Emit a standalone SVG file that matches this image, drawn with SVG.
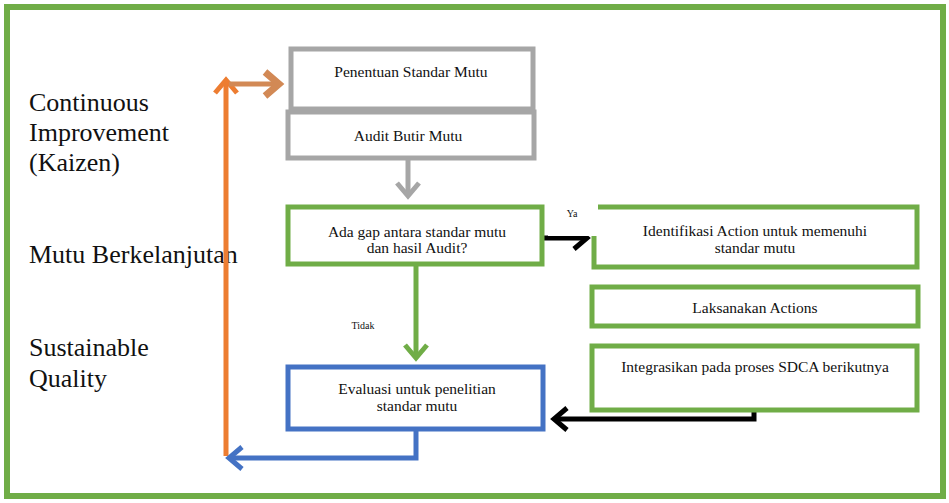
<svg xmlns="http://www.w3.org/2000/svg" width="949" height="503" viewBox="0 0 949 503">
<defs>
<style>
.t{font-family:"Liberation Serif","Times New Roman",serif;fill:#111}
.side{font-size:26px}
.box{font-size:15.5px}
.small{font-size:10px}
.g{fill:#fff;stroke:#a6a6a6;stroke-width:5}
.gr{fill:#fff;stroke:#70ad47;stroke-width:5}
.bl{fill:#fff;stroke:#4472c4;stroke-width:5}
.c{fill:none;stroke-width:5;stroke-linejoin:miter}
</style>
<marker id="mGray" markerUnits="userSpaceOnUse" viewBox="0 0 26 26" markerWidth="26" markerHeight="26" refX="21" refY="13" orient="auto"><path d="M8 2 L21 13 L8 24" fill="none" stroke="#a6a6a6" stroke-width="5"/></marker>
<marker id="mGreen" markerUnits="userSpaceOnUse" viewBox="0 0 26 26" markerWidth="26" markerHeight="26" refX="21" refY="13" orient="auto"><path d="M8 2 L21 13 L8 24" fill="none" stroke="#70ad47" stroke-width="5"/></marker>
<marker id="mBlue" markerUnits="userSpaceOnUse" viewBox="0 0 26 26" markerWidth="26" markerHeight="26" refX="21" refY="13" orient="auto"><path d="M8 2 L21 13 L8 24" fill="none" stroke="#4472c4" stroke-width="5"/></marker>
<marker id="mOrange" markerUnits="userSpaceOnUse" viewBox="0 0 26 26" markerWidth="26" markerHeight="26" refX="21" refY="13" orient="auto"><path d="M8 2 L21 13 L8 24" fill="none" stroke="#ed7d31" stroke-width="5"/></marker>
<marker id="mOrange2" markerUnits="userSpaceOnUse" viewBox="0 0 30 30" markerWidth="30" markerHeight="30" refX="24" refY="15" orient="auto"><path d="M10 3 L24 15 L10 27" fill="none" stroke="#d28955" stroke-width="7"/></marker>
<marker id="mBlack" markerUnits="userSpaceOnUse" viewBox="0 0 26 26" markerWidth="26" markerHeight="26" refX="21" refY="13" orient="auto"><path d="M8 2 L21 13 L8 24" fill="none" stroke="#000" stroke-width="5"/></marker>
</defs>
<rect x="0" y="0" width="949" height="503" fill="#fff"/>
<rect id="frame" x="7" y="7" width="936" height="489" fill="none" stroke="#70ad47" stroke-width="6"/>

<g id="labels">
<text class="t side" x="29" y="111">Continuous</text>
<text class="t side" x="29" y="141">Improvement</text>
<text class="t side" x="29" y="171">(Kaizen)</text>
<text class="t side" x="29" y="263">Mutu Berkelanjutan</text>
<text class="t side" x="29" y="356">Sustainable</text>
<text class="t side" x="29" y="387">Quality</text>
</g>

<g id="connectors">
<path class="c" stroke="#ed7d31" d="M226 456 L226 80" marker-end="url(#mOrange)"/>
<path class="c" stroke="#d28955" stroke-width="7" d="M229 84 L279 84" marker-end="url(#mOrange2)"/>
<path class="c" stroke="#a6a6a6" d="M408 159 L408 196" marker-end="url(#mGray)"/>
<path class="c" stroke="#70ad47" d="M416 265 L416 358" marker-end="url(#mGreen)"/>
<path class="c" stroke="#000" d="M544 238 L587 238" marker-end="url(#mBlack)"/>
<path class="c" stroke="#000" d="M754 409 L754 419 L554 419" marker-end="url(#mBlack)"/>
<path class="c" stroke="#4472c4" d="M416 430 L416 458 L229 458" marker-end="url(#mBlue)"/>
</g>

<g id="n1"><rect class="g" x="291" y="49" width="242" height="60"/><text class="t box" x="411" y="77" text-anchor="middle">Penentuan Standar Mutu</text></g>
<g id="n2"><rect class="g" x="288" y="112" width="246" height="46"/><text class="t box" x="408" y="141" text-anchor="middle">Audit Butir Mutu</text></g>
<g id="n3"><rect class="gr" x="288" y="207" width="254" height="57"/><text class="t box" x="417" y="237" text-anchor="middle">Ada gap antara standar mutu</text><text class="t box" x="417" y="253" text-anchor="middle">dan hasil  Audit?</text></g>
<g id="n4"><rect class="gr" x="594" y="207" width="323" height="60"/><text class="t box" x="755" y="236" text-anchor="middle">Identifikasi Action untuk memenuhi</text><text class="t box" x="755" y="253" text-anchor="middle">standar mutu</text></g>
<g id="n5"><rect class="gr" x="592" y="287" width="326" height="39"/><text class="t box" x="755" y="313" text-anchor="middle">Laksanakan Actions</text></g>
<g id="n6"><rect class="gr" x="592" y="346" width="325" height="64"/><text class="t box" x="755" y="372" text-anchor="middle">Integrasikan pada proses SDCA berikutnya</text></g>
<g id="n7"><rect class="bl" x="288" y="367" width="255" height="62"/><text class="t box" x="417" y="394" text-anchor="middle">Evaluasi untuk penelitian</text><text class="t box" x="417" y="411" text-anchor="middle">standar mutu</text></g>

<g id="edgeLabels">
<rect x="548" y="199" width="50" height="37" fill="#fff"/>
<text class="t small" x="572" y="217" text-anchor="middle">Ya</text>
<text class="t small" x="363" y="329" text-anchor="middle">Tidak</text>
</g>
</svg>
